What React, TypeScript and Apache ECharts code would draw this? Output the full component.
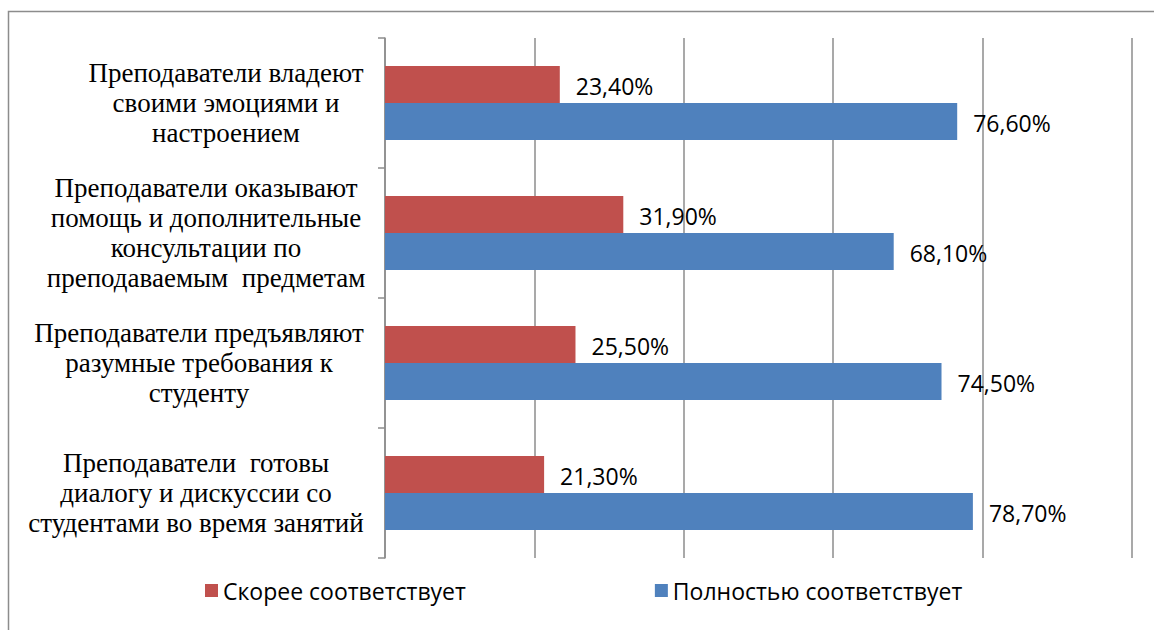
import React, { useEffect, useRef } from "react";
import * as echarts from "echarts";

const categories = [
  "Преподаватели владеют\nсвоими эмоциями и\nнастроением",
  "Преподаватели оказывают\nпомощь и дополнительные\nконсультации по\nпреподаваемым  предметам",
  "Преподаватели предъявляют\nразумные требования к\nстуденту",
  "Преподаватели  готовы\nдиалогу и дискуссии со\nстудентами во время занятий",
];
const seriesNames = ["Скорее соответствует", "Полностью соответствует"];
const ratherValues = [23.4, 31.9, 25.5, 21.3];
const fullyValues = [76.6, 68.1, 74.5, 78.7];
const xTicks = [0, 20, 40, 60, 80, 100];

const labelPads: number[][] = [
  [0, 0, 0, 54],
  [0, 0, 0, 14],
  [0, 0, 0, 0],
  [0, 6, 0, 0],
];

const serif = "Liberation Serif";
const sans = "Open Sans";

export default function App() {
  const ref = useRef<HTMLDivElement>(null);
  useEffect(() => {
    if (!ref.current) return;
    const chart = echarts.init(ref.current, null, { renderer: "svg" });
    const rich: Record<string, any> = {};
    labelPads.forEach((p, i) => {
      rich["c" + i] = {
        fontFamily: serif,
        fontSize: 27,
        lineHeight: 30,
        color: "#000",
        padding: p,
      };
    });
    const fmt = (p: any) => (p.value as number).toFixed(2).replace(".", ",") + "%";
    chart.setOption({
      animation: false,
      backgroundColor: "#fff",
      graphic: [
        {
          type: "rect",
          shape: { x: 8.5, y: 11.5, width: 1160, height: 640 },
          style: { fill: "none", stroke: "#8c8c8c", lineWidth: 1.5 },
          silent: true,
        },
      ],
      grid: { left: 385, right: 22, top: 38, bottom: 72 },
      xAxis: {
        type: "value",
        min: xTicks[0],
        max: xTicks[xTicks.length - 1],
        interval: xTicks[1] - xTicks[0],
        axisLabel: { show: false },
        axisLine: { show: false },
        axisTick: { show: false },
        splitLine: { show: true, lineStyle: { color: "#8c8c8c", width: 1.5 } },
      },
      yAxis: {
        type: "category",
        inverse: true,
        data: categories,
        axisLine: { show: true, lineStyle: { color: "#8c8c8c", width: 1.5 } },
        axisTick: { show: true, length: 7, lineStyle: { color: "#8c8c8c", width: 1.5 } },
        axisLabel: {
          align: "center",
          margin: 186,
          fontFamily: serif,
          fontSize: 27,
          lineHeight: 30,
          color: "#000",
          formatter: (v: string, i: number) =>
            v
              .split("\n")
              .map((l) => `{c${i}|${l}}`)
              .join("\n"),
          rich,
        },
      },
      legend: {
        data: seriesNames,
        left: 200,
        top: 574,
        icon: "rect",
        itemWidth: 13,
        itemHeight: 13,
        itemGap: 189,
        textStyle: { fontFamily: sans, fontSize: 23, color: "#000" },
      },
      series: [
        {
          name: seriesNames[0],
          type: "bar",
          data: ratherValues,
          barWidth: 37,
          barGap: "0%",
          itemStyle: { color: "#C0504D" },
          label: {
            show: true,
            position: "right",
            distance: 16,
            offset: [0, 1],
            formatter: fmt,
            fontFamily: sans,
            fontSize: 23,
            color: "#000",
          },
        },
        {
          name: seriesNames[1],
          type: "bar",
          data: fullyValues,
          barWidth: 37,
          barGap: "0%",
          itemStyle: { color: "#4F81BD" },
          label: {
            show: true,
            position: "right",
            distance: 16,
            offset: [0, 1],
            formatter: fmt,
            fontFamily: sans,
            fontSize: 23,
            color: "#000",
          },
        },
      ],
    });
    return () => chart.dispose();
  }, []);
  return (
    <div
      ref={ref}
      style={{ position: "fixed", left: 0, top: 0, width: 1154, height: 630, background: "#fff" }}
    />
  );
}
